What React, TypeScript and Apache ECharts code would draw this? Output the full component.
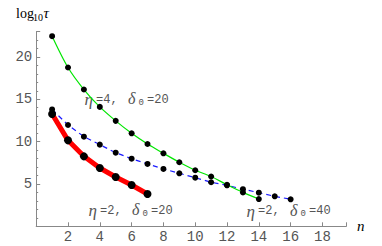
import React, { useEffect, useRef } from "react";
import * as echarts from "echarts";

const nGreen = [1, 2, 3, 4, 5, 6, 7, 8, 9, 10, 11, 12, 13, 14];
const eta4delta20 = [22.45, 18.75, 16.15, 14.1, 12.45, 10.98, 9.72, 8.62, 7.56, 6.62, 5.88, 4.9, 4.0, 3.22];
const nBlue = [1, 2, 3, 4, 5, 6, 7, 8, 9, 10, 11, 12, 13, 14, 15, 16];
const eta2delta40 = [13.8, 11.96, 10.58, 9.64, 8.69, 7.98, 7.36, 6.77, 6.26, 5.74, 5.2, 4.84, 4.38, 3.97, 3.54, 3.19];
const nRed = [1, 2, 3, 4, 5, 6, 7];
const eta2delta20 = [13.26, 10.15, 8.26, 6.88, 5.82, 4.88, 3.81];
const xTicks = [2, 4, 6, 8, 10, 12, 14, 16, 18];
const yTicks = [5, 10, 15, 20];

const pair = (xs: number[], ys: number[]) => xs.map((x, i) => [x, ys[i]]);

const GRAY = "#555";
const MONO = "Liberation Mono";
const SERIF = "Liberation Serif";

function label(x: number, y: number, eta: string, delta: string): any[] {
  return [
    { type: "text", x: x - 0.5, y: y + 0.5, style: { text: "η", font: `italic 17px '${SERIF}'`, fill: GRAY, textVerticalAlign: "middle" } },
    { type: "text", x: x + 11, y: y + 0.5, style: { text: `=${eta},`, font: `12px '${MONO}'`, fill: GRAY, textVerticalAlign: "middle" } },
    { type: "text", x: x + 43, y: y - 0.5, style: { text: "δ", font: `italic 16px '${SERIF}'`, fill: GRAY, textVerticalAlign: "middle" } },
    { type: "text", x: x + 53.5, y: y + 3.5, style: { text: "0", font: `9px '${MONO}'`, fill: GRAY, textVerticalAlign: "middle" } },
    { type: "text", x: x + 62, y: y + 0.5, style: { text: `=${delta}`, font: `12px '${MONO}'`, fill: GRAY, textVerticalAlign: "middle" } },
  ];
}

export default function App() {
  const ref = useRef<HTMLDivElement>(null);
  useEffect(() => {
    const chart = echarts.init(ref.current!, null, { renderer: "svg" });
    chart.setOption({
      animation: false,
      backgroundColor: "#fff",
      grid: { left: 36.2, right: 35.7, top: 31.5, bottom: 19.7 },
      xAxis: {
        type: "value",
        min: 0,
        max: 19.5,
        interval: 2,
        axisLine: { show: true, lineStyle: { color: "#888", width: 1 } },
        axisTick: { show: true, inside: true, length: 4, lineStyle: { color: "#888" } },
        splitLine: { show: false },
        axisLabel: {
          margin: 4,
          color: GRAY,
          fontFamily: MONO,
          fontSize: 14,
          formatter: (v: number) => (xTicks.includes(v) ? String(v) : ""),
        },
      },
      yAxis: {
        type: "value",
        min: 0,
        max: 23,
        interval: 5,
        axisLine: { show: true, lineStyle: { color: "#888", width: 1 } },
        axisTick: { show: true, inside: true, length: 4, lineStyle: { color: "#888" } },
        minorTick: { show: true, splitNumber: 5, length: 2, lineStyle: { color: "#888" } },
        splitLine: { show: false },
        axisLabel: {
          margin: 4,
          color: GRAY,
          fontFamily: MONO,
          fontSize: 14,
          formatter: (v: number) => (yTicks.includes(v) ? String(v) : ""),
        },
      },
      series: [
        {
          type: "line",
          data: pair(nGreen, eta4delta20),
          smooth: 0.3,
          lineStyle: { color: "#00e600", width: 1.2 },
          symbol: "circle",
          symbolSize: 6,
          itemStyle: { color: "#000" },
          z: 3,
        },
        {
          type: "line",
          data: pair(nBlue, eta2delta40),
          lineStyle: { color: "#1a1aff", width: 1.2, type: [5, 4] },
          symbol: "circle",
          symbolSize: 6,
          itemStyle: { color: "#000" },
          z: 2,
        },
        {
          type: "line",
          data: pair(nRed, eta2delta20),
          lineStyle: { color: "#ff0000", width: 5 },
          symbol: "circle",
          symbolSize: 8,
          itemStyle: { color: "#000" },
          z: 4,
        },
      ],
      graphic: [
        { type: "text", x: 16, y: 13, style: { text: "log", font: `14px '${SERIF}'`, fill: "#000", textVerticalAlign: "middle" } },
        { type: "text", x: 33, y: 17.5, style: { text: "10", font: `10px '${SERIF}'`, fill: "#000", textVerticalAlign: "middle" } },
        { type: "text", x: 43.5, y: 12.5, style: { text: "τ", font: `italic 15px '${SERIF}'`, fill: "#000", textVerticalAlign: "middle" } },
        { type: "text", x: 357, y: 226, style: { text: "n", font: `italic 15px '${SERIF}'`, fill: "#000", textVerticalAlign: "middle" } },
        ...label(85, 99, "4", "20"),
        ...label(89, 210, "2", "20"),
        ...label(247, 210.5, "2", "40"),
      ],
    });
    return () => chart.dispose();
  }, []);
  return <div ref={ref} style={{ width: 382, height: 246, position: "absolute", left: 0, top: 0 }} />;
}
